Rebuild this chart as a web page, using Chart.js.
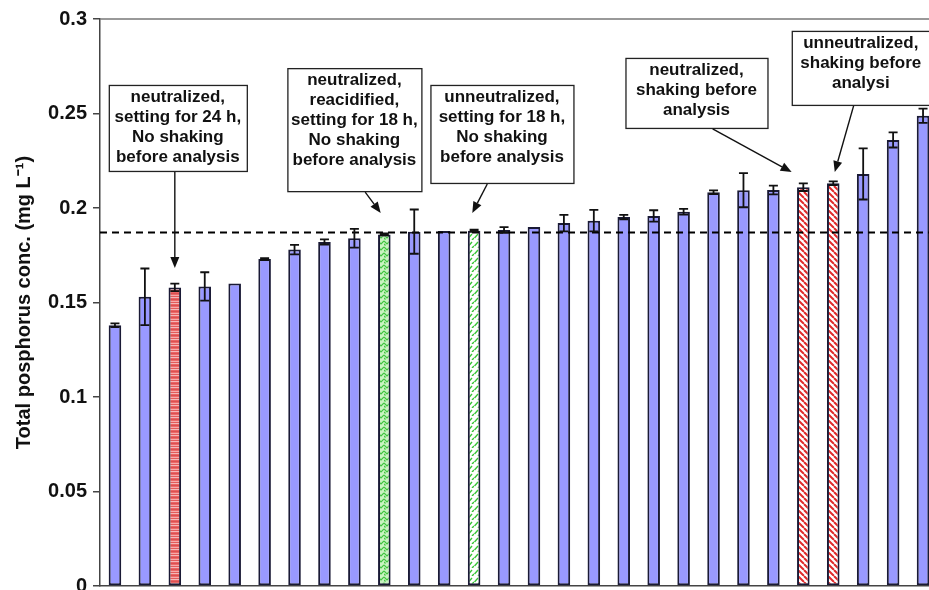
<!DOCTYPE html>
<html>
<head>
<meta charset="utf-8">
<script src="https://cdn.jsdelivr.net/npm/chart.js@4.4.1/dist/chart.umd.min.js"></script>
<style>
  html, body { margin: 0; padding: 0; background: #fff; overflow: hidden; }
  #wrap { position: relative; width: 938px; height: 590px; }
</style>
</head>
<body>
<div id="wrap"><canvas id="c"></canvas></div>
<script>
// Total phosphorus of the 28 samples, sorted ascending (mg/L)
const samples = ['1','2','3','4','5','6','7','8','9','10','11','12','13','14',
                 '15','16','17','18','19','20','21','22','23','24','25','26','27','28'];
const totalP = [0.138, 0.153, 0.158, 0.1585, 0.160, 0.173, 0.178, 0.182, 0.184, 0.186,
                0.1875, 0.1878, 0.188, 0.1884, 0.190, 0.192, 0.1933, 0.1952, 0.1958, 0.198,
                0.2083, 0.2094, 0.2095, 0.211, 0.2131, 0.218, 0.236, 0.2488];
const stdDev = [0.001, 0.015, 0.002, 0.0075, 0, 0.0005, 0.0025, 0.0014, 0.005, 0.0005,
                0.0117, 0, 0.0005, 0.0015, 0, 0.0044, 0.0057, 0.0012, 0.003, 0.0015,
                0.001, 0.009, 0.0023, 0.002, 0.001, 0.0135, 0.004, 0.0038];
// sample treatment: 'std' = routine handling
const treatment = ['std','std','neut24','std','std','std','std','std','std','reacid18',
                   'std','std','unneut18','std','std','std','std','std','std','std',
                   'std','std','std','neutShake','unneutShake','std','std','std'];
// reference value drawn as the dashed line
const referenceValue = 0.1875;
const yTicks = { min: 0, max: 0.3, step: 0.05 };

const noteTexts = [
  ['neutralized,', 'setting for 24 h,', 'No shaking', 'before analysis'],
  ['neutralized,', 'reacidified,', 'setting for 18 h,', 'No shaking', 'before analysis'],
  ['unneutralized,', 'setting for 18 h,', 'No shaking', 'before analysis'],
  ['neutralized,', 'shaking before', 'analysis'],
  ['unneutralized,', 'shaking before', 'analysi']
];

const FONT = '"Liberation Sans", Arial, Helvetica, sans-serif';

// ---- fill patterns ----
function tile(w, h, paint) {
  const c = document.createElement('canvas');
  c.width = w; c.height = h;
  const g = c.getContext('2d');
  paint(g);
  return document.createElement('canvas').getContext('2d').createPattern(c, 'repeat');
}
const stripedRed = tile(4, 6, g => {
  const rows = ['#ec6a6a', '#f7aaaa', '#e35a5a', '#f4b8b8', '#ea6464', '#dc5050'];
  rows.forEach((col, i) => { g.fillStyle = col; g.fillRect(0, i, 4, 1); });
});
const hatchRed = tile(6, 6, g => {
  g.fillStyle = '#ffffff'; g.fillRect(0, 0, 6, 6);
  g.strokeStyle = '#e02a2a'; g.lineWidth = 2;
  for (let k = -6; k <= 12; k += 6) {
    g.beginPath(); g.moveTo(k, 0); g.lineTo(k + 6, 6); g.stroke();
  }
});
const zigGreenDense = tile(6, 6, g => {
  g.fillStyle = '#c8f2c0'; g.fillRect(0, 0, 6, 6);
  g.strokeStyle = '#3fc23f'; g.lineWidth = 1.2;
  g.beginPath(); g.moveTo(0, 1); g.lineTo(3, 4); g.lineTo(6, 1); g.stroke();
  g.beginPath(); g.moveTo(0, 4); g.lineTo(1.5, 5.5); g.stroke();
});
const zigGreenLight = tile(6, 8, g => {
  g.fillStyle = '#ffffff'; g.fillRect(0, 0, 6, 8);
  g.strokeStyle = '#35c435'; g.lineWidth = 1.4;
  g.beginPath(); g.moveTo(0.5, 6); g.lineTo(4, 2); g.stroke();
  g.beginPath(); g.moveTo(4, 8); g.lineTo(6, 6); g.stroke();
});

const fills = {
  std: '#9999ff',
  neut24: stripedRed,
  reacid18: zigGreenDense,
  unneut18: zigGreenLight,
  neutShake: hatchRed,
  unneutShake: hatchRed
};

// ---- error bars + dashed reference line ----
const errorBars = {
  id: 'errorBars',
  afterDatasetsDraw(chart) {
    const { ctx, chartArea } = chart;
    const y = chart.scales.y;
    const meta = chart.getDatasetMeta(0);
    ctx.save();
    // dashed reference line
    ctx.strokeStyle = '#000';
    ctx.lineWidth = 2;
    ctx.setLineDash([7, 5]);
    const ly = Math.round(y.getPixelForValue(referenceValue)) + 0.5;
    ctx.beginPath(); ctx.moveTo(chartArea.left, ly); ctx.lineTo(chartArea.right, ly); ctx.stroke();
    ctx.setLineDash([]);
    // whiskers
    ctx.strokeStyle = '#111';
    ctx.lineWidth = 1.8;
    meta.data.forEach((bar, i) => {
      const e = stdDev[i];
      if (!e) return;
      const x = bar.x;
      const yt = y.getPixelForValue(totalP[i] + e);
      const yb = y.getPixelForValue(totalP[i] - e);
      ctx.beginPath();
      ctx.moveTo(x, yt); ctx.lineTo(x, yb);
      ctx.moveTo(x - 4.5, yt); ctx.lineTo(x + 4.5, yt);
      ctx.moveTo(x - 4.5, yb); ctx.lineTo(x + 4.5, yb);
      ctx.stroke();
    });
    // frame line along the top of the plot
    ctx.strokeStyle = '#777';
    ctx.lineWidth = 1.5;
    ctx.beginPath(); ctx.moveTo(chartArea.left, chartArea.top); ctx.lineTo(chartArea.right, chartArea.top); ctx.stroke();
    ctx.restore();
  }
};

// ---- callout boxes with arrows (x in category index units, y in data units) ----
const callouts = [
  { cx: 2.1,   top: 0.2651, w: 138, h: 86,  from: 2.0,   tip: [2.0, 0.1683] },
  { cx: 8.0,   top: 0.274,  w: 134, h: 123, from: 8.36,  tip: [8.88, 0.1974] },
  { cx: 12.93, top: 0.2651, w: 143, h: 98,  from: 12.44, tip: [11.94, 0.1974] },
  { cx: 19.43, top: 0.2794, w: 142, h: 70,  from: 19.97, tip: [22.61, 0.219] },
  { cx: 24.92, top: 0.2937, w: 138, h: 74,  from: 24.68, tip: [24.05, 0.219] }
];
const calloutPlugin = {
  id: 'callouts',
  afterDraw(chart) {
    const { ctx } = chart;
    const xs = chart.scales.x, ys = chart.scales.y;
    ctx.save();
    callouts.forEach((c, k) => {
      const cx = xs.getPixelForValue(c.cx);
      const top = ys.getPixelForValue(c.top);
      const left = cx - c.w / 2;
      const bottom = top + c.h;
      // box
      ctx.fillStyle = '#fff';
      ctx.fillRect(left, top, c.w, c.h);
      ctx.strokeStyle = '#222';
      ctx.lineWidth = 1.3;
      ctx.strokeRect(left + 0.5, top + 0.5, c.w, c.h);
      // text
      ctx.fillStyle = '#111';
      ctx.font = 'bold 17px ' + FONT;
      ctx.textAlign = 'center';
      ctx.textBaseline = 'middle';
      noteTexts[k].forEach((line, j) => ctx.fillText(line, cx, top + 12.5 + j * 20));
      // arrow
      const x0 = xs.getPixelForValue(c.from), y0 = bottom + 1;
      const x1 = xs.getPixelForValue(c.tip[0]), y1 = ys.getPixelForValue(c.tip[1]);
      const ang = Math.atan2(y1 - y0, x1 - x0);
      const head = 11, half = 4.5;
      const bx = x1 - head * Math.cos(ang), by = y1 - head * Math.sin(ang);
      ctx.strokeStyle = '#111';
      ctx.lineWidth = 1.4;
      ctx.beginPath(); ctx.moveTo(x0, y0); ctx.lineTo(bx, by); ctx.stroke();
      ctx.fillStyle = '#111';
      ctx.beginPath();
      ctx.moveTo(x1, y1);
      ctx.lineTo(bx + half * Math.sin(ang), by - half * Math.cos(ang));
      ctx.lineTo(bx - half * Math.sin(ang), by + half * Math.cos(ang));
      ctx.closePath(); ctx.fill();
    });
    ctx.restore();
  }
};

new Chart(document.getElementById('c'), {
  type: 'bar',
  data: {
    labels: samples,
    datasets: [{
      data: totalP,
      backgroundColor: treatment.map(t => fills[t]),
      borderColor: '#1a1a36',
      borderWidth: 2,
      borderSkipped: false,
      barPercentage: 0.42,
      categoryPercentage: 1.0
    }]
  },
  options: {
    responsive: true,
    maintainAspectRatio: false,
    animation: false,
    devicePixelRatio: 1,
    layout: { padding: { left: 0, right: 0, top: 19, bottom: 4 } },
    plugins: { legend: { display: false }, tooltip: { enabled: false } },
    scales: {
      x: {
        grid: { display: false, drawTicks: false },
        ticks: { display: false },
        border: { display: true, color: '#444', width: 1.5 },
        afterFit: s => { s.height = 0; s.paddingLeft = 0; s.paddingRight = 0; }
      },
      y: {
        min: yTicks.min,
        max: yTicks.max,
        ticks: {
          stepSize: yTicks.step,
          color: '#111',
          padding: 6,
          font: { family: FONT, size: 20, weight: 'bold' },
          callback: v => String(+v.toFixed(2))
        },
        grid: { drawOnChartArea: false, drawTicks: true, tickLength: 7, color: '#444', lineWidth: 1.5 },
        border: { display: true, color: '#444', width: 1.5 },
        title: {
          display: true,
          text: 'Total posphorus conc. (mg L\u207B\u00B9)',
          color: '#111',
          font: { family: FONT, size: 20, weight: 'bold' },
          padding: { top: 12, bottom: 0 }
        },
        afterFit: s => { s.width = 100; s.paddingTop = 0; s.paddingBottom = 0; }
      }
    }
  },
  plugins: [errorBars, calloutPlugin]
});
</script>
</body>
</html>
